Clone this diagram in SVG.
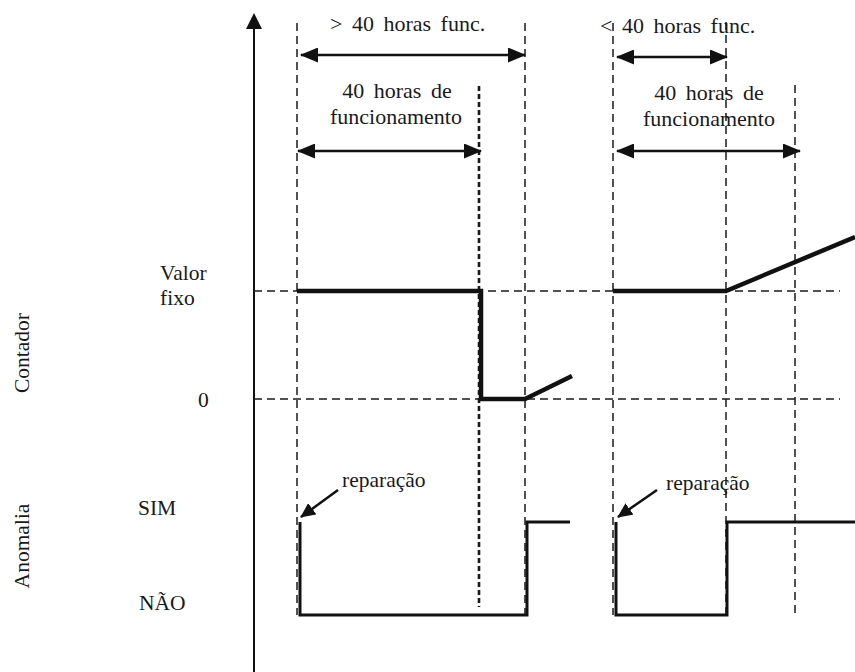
<svg xmlns="http://www.w3.org/2000/svg" width="855" height="672" viewBox="0 0 855 672">
<style>
text{font-family:"Liberation Serif","Times New Roman",serif;font-size:21.5px;fill:#1a1a1a}
.ws{font-size:22px;word-spacing:4px}
.fn{font-size:22px}
.dash{stroke:#1a1a1a;stroke-width:1.5;stroke-dasharray:8 5;fill:none}
.dot{stroke:#1a1a1a;stroke-width:2.6;stroke-dasharray:5 3;fill:none}
.thick{stroke:#111;stroke-width:4.5;fill:none;stroke-linejoin:miter}
.sig{stroke:#111;stroke-width:3;fill:none}
.arr{stroke:#111;stroke-width:2.5;fill:none;marker-start:url(#ah);marker-end:url(#ah)}
</style>
<defs>
<marker id="ah" markerUnits="userSpaceOnUse" markerWidth="19" markerHeight="15" refX="17" refY="7.5" orient="auto-start-reverse" viewBox="0 0 19 15">
<path d="M0,0 L18,7.5 L0,15 Z" fill="#111"/>
</marker>
<marker id="ah2" markerUnits="userSpaceOnUse" markerWidth="16" markerHeight="14" refX="14" refY="7" orient="auto" viewBox="0 0 16 14">
<path d="M0,0 L15,7 L0,14 Z" fill="#111"/>
</marker>
</defs>

<g id="axis">
<line x1="254" y1="24" x2="254" y2="672" stroke="#111" stroke-width="2"/>
<path d="M246,29 L254,13 L262,29 Z" fill="#111"/>
</g>

<g id="grid">
<line class="dash" x1="254" y1="291" x2="840" y2="291"/>
<line class="dash" x1="254" y1="399" x2="840" y2="399"/>
<line class="dash" x1="297" y1="23" x2="297" y2="615"/>
<line class="dot" x1="479" y1="86" x2="479" y2="607"/>
<line class="dash" x1="525" y1="23" x2="525" y2="615"/>
<line class="dash" x1="613" y1="23" x2="613" y2="615"/>
<line class="dash" x1="726" y1="22" x2="726" y2="615"/>
<line class="dash" x1="795" y1="85" x2="795" y2="617"/>
</g>

<g id="labels">
<text x="330" y="31" class="ws">&gt; 40 horas func.</text>
<text x="397" y="98" text-anchor="middle" class="ws">40 horas de</text>
<text x="396" y="124" text-anchor="middle" class="fn">funcionamento</text>
<text x="600" y="33" class="ws">&lt; 40 horas func.</text>
<text x="709" y="100" text-anchor="middle" class="ws">40 horas de</text>
<text x="709" y="126" text-anchor="middle" class="fn">funcionamento</text>
<text x="160" y="280">Valor</text>
<text x="160" y="305">fixo</text>
<text x="198" y="407">0</text>
<text x="138" y="515">SIM</text>
<text x="139" y="610">NÃO</text>
<text transform="translate(29,353) rotate(-90)" text-anchor="middle">Contador</text>
<text transform="translate(29,546) rotate(-90)" text-anchor="middle">Anomalia</text>
<text x="342" y="487">reparação</text>
<text x="666" y="490">reparação</text>
</g>

<g id="connectors">
<line class="arr" x1="301" y1="55" x2="525" y2="55"/>
<line class="arr" x1="298" y1="151" x2="481" y2="151"/>
<line class="arr" x1="617" y1="57" x2="727" y2="57"/>
<line class="arr" x1="617" y1="151" x2="800" y2="151"/>
<line x1="338" y1="490" x2="301" y2="517" stroke="#111" stroke-width="2.5" marker-end="url(#ah2)"/>
<line x1="657" y1="490" x2="618" y2="517" stroke="#111" stroke-width="2.5" marker-end="url(#ah2)"/>
</g>

<g id="counter">
<polyline class="thick" points="297,291 481,291 481,399 525,399 572,376"/>
<polyline class="thick" points="613,291 726,291 855,237"/>
</g>

<g id="anomaly">
<polyline class="sig" points="300,522 300,615 527,615 527,522 570,522"/>
<polyline class="sig" points="616,522 616,615 727,615 727,522 855,522"/>
</g>
</svg>
